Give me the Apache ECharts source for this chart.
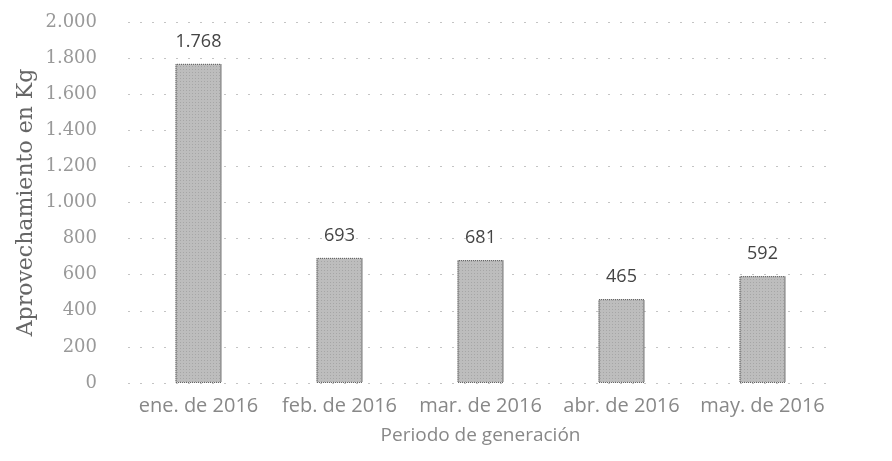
<meta charset="utf-8" />
<style>body { margin: 0; }</style>
<div id="main" style="width:892px;height:461px;"></div>
<script src="https://cdn.jsdelivr.net/npm/echarts@6/dist/echarts.min.js"></script>
<script type="text/javascript">
	// datos del grafico
	var categorias = ['ene. de 2016', 'feb. de 2016', 'mar. de 2016', 'abr. de 2016', 'may. de 2016'];
	var aprovechamiento = [1768, 693, 681, 465, 592];

	var myChart = echarts.init(document.getElementById('main'));

	// separador de miles con punto
	function fmt(v) {
		return String(v).replace(/\B(?=(\d{3})+(?!\d))/g, '.');
	}

	var option = {
		backgroundColor: '#fff',
		textStyle: { fontFamily: 'Open Sans' },
		grid: { left: 128, right: 59, top: 22, bottom: 78, outerBoundsMode: 'none' },
		xAxis: {
			type: 'category',
			data: categorias,
			name: 'Periodo de generación',
			nameLocation: 'middle',
			nameGap: 43,
			nameMoveOverlap: false,
			nameTextStyle: { fontSize: 19, color: '#888' },
			axisLine: { show: false },
			axisTick: { show: false },
			axisLabel: { fontSize: 20, color: '#888', margin: 13, interval: 0 }
		},
		yAxis: {
			type: 'value',
			min: 0,
			max: 2000,
			interval: 200,
			name: 'Aprovechamiento en Kg',
			nameLocation: 'middle',
			nameGap: 91,
			nameMoveOverlap: false,
			nameTextStyle: { fontSize: 22, color: '#666', fontFamily: 'DejaVu Serif' },
			axisLabel: { fontSize: 18, color: '#999', margin: 31, fontFamily: 'DejaVu Serif', formatter: fmt },
			splitLine: { lineStyle: { type: [2, 10], color: '#c4c4c4' } }
		},
		series: [{
			type: 'bar',
			data: aprovechamiento,
			barWidth: 46,
			itemStyle: {
				color: '#bdbdbd',
				borderColor: '#666',
				borderWidth: 1,
				borderType: 'dotted',
				decal: {
					symbol: 'rect',
					symbolSize: 0.6,
					dashArrayX: [1, 2],
					dashArrayY: [1, 2],
					color: 'rgba(60,60,60,0.55)',
					rotation: 0
				}
			},
			label: {
				show: true,
				position: 'top',
				distance: 13,
				fontSize: 18,
				color: '#444',
				formatter: function (p) { return fmt(p.value); }
			}
		}]
	};

	myChart.setOption(option);
</script>
